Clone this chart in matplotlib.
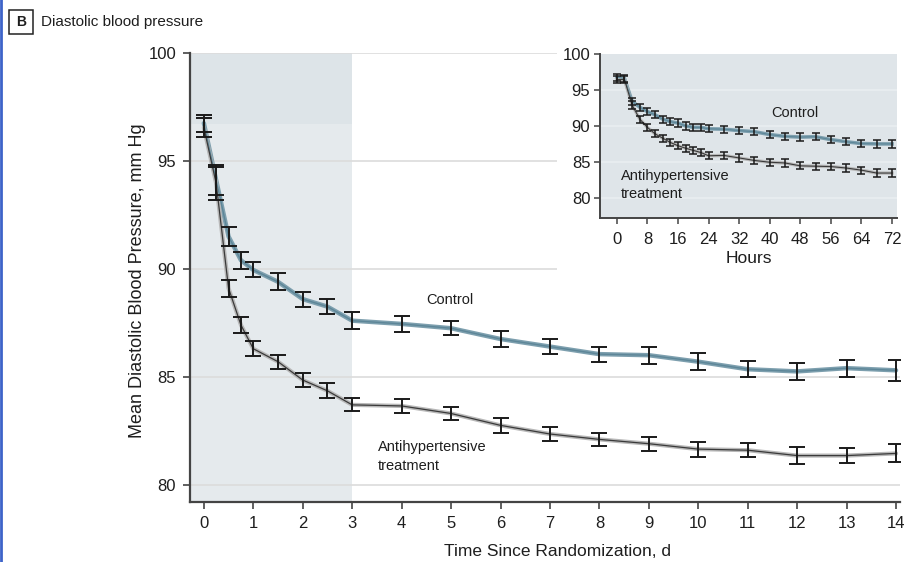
import matplotlib
matplotlib.use("Agg")
import matplotlib.pyplot as plt
from matplotlib.patches import Rectangle
from matplotlib.lines import Line2D

# Mean diastolic BP by day (main panel)
days = [0, 0.25, 0.5, 0.75, 1, 1.5, 2, 2.5, 3, 4, 5, 6, 7, 8, 9, 10, 11, 12, 13, 14]
control_d = [96.75, 94.1, 91.5, 90.4, 89.95, 89.4, 88.6, 88.25, 87.6,
             87.45, 87.25, 86.75, 86.4, 86.05, 86.0, 85.7, 85.35, 85.25, 85.4, 85.3]
control_d_err = [0.4, 0.7, 0.45, 0.4, 0.35, 0.4, 0.35, 0.35, 0.38,
                 0.38, 0.32, 0.38, 0.35, 0.35, 0.4, 0.38, 0.38, 0.4, 0.4, 0.5]
treat_d = [96.55, 93.95, 89.1, 87.4, 86.3, 85.7, 84.85, 84.35, 83.7,
           83.65, 83.3, 82.75, 82.35, 82.1, 81.9, 81.65, 81.6, 81.35, 81.35, 81.45]
treat_d_err = [0.45, 0.75, 0.4, 0.35, 0.35, 0.32, 0.32, 0.35, 0.3,
               0.32, 0.32, 0.35, 0.32, 0.3, 0.32, 0.35, 0.32, 0.38, 0.35, 0.42]

# First 72 hours (inset)
hours = [0, 2, 4, 6, 8, 10, 12, 14, 16, 18, 20, 22, 24, 28, 32, 36, 40, 44,
         48, 52, 56, 60, 64, 68, 72]
control_h = [96.75, 96.6, 93.4, 92.6, 92.0, 91.55, 90.95, 90.6, 90.4, 90.0, 89.8,
             89.8, 89.6, 89.55, 89.35, 89.2, 88.8, 88.55, 88.45, 88.5, 88.1,
             87.8, 87.55, 87.5, 87.5]
treat_h = [96.45, 96.45, 92.9, 90.95, 89.8, 88.9, 88.3, 87.7, 87.25, 86.9, 86.6,
           86.3, 85.85, 85.9, 85.55, 85.2, 84.95, 84.85, 84.45, 84.4, 84.35,
           84.15, 83.85, 83.45, 83.45]
err_h = 0.5

plt.rcParams["font.family"] = ["Liberation Sans", "DejaVu Sans"]

TXT = "#1e1e1e"
SPINE = "#444444"
GRID = "#dcdcdc"
SHADE = "#e5eaed"
SHADE_TOP = "#dde4e8"
CTRL = "#7d9fae"
CTRL_IN = "#5d8698"
TRT = "#b8b8b8"
TRT_IN = "#3a3a3a"

W, H = 906, 562
fig = plt.figure(figsize=(W / 100, H / 100), dpi=100)

# left-edge rule
fig.add_artist(Line2D([0.0015, 0.0015], [0, 1], transform=fig.transFigure,
                      color="#3d63c9", lw=2))

# panel heading: boxed letter + title
fig.add_artist(Rectangle((9 / W, 1 - 34 / H), 24 / W, 24 / H, transform=fig.transFigure,
                         fc="white", ec="#222222", lw=1.1))
fig.text(21 / W, 1 - 22 / H, "B", fontsize=10, fontweight="bold", color=TXT,
         ha="center", va="center")
fig.text(41 / W, 1 - 22 / H, "Diastolic blood pressure", fontsize=11, color=TXT,
         ha="left", va="center")

ax = fig.add_axes([190 / W, 1 - 502 / H, 710 / W, 449 / H])
ax.set_xlim(-0.28, 14.08)
ax.set_ylim(79.2, 100)

ax.axvspan(-0.28, 3, color=SHADE, lw=0, zorder=0)
ax.add_patch(Rectangle((-0.28, 96.72), 3.28, 100 - 96.72, color=SHADE_TOP, lw=0, zorder=0.1))
for yv in [80, 85, 90, 95, 100]:
    ax.axhline(yv, color=GRID, lw=1.2, zorder=0.5)

ax.plot(days, control_d, color=CTRL, lw=3.2, zorder=2, solid_capstyle="round")
ax.plot(days, control_d, color=CTRL_IN, lw=1.0, zorder=2.1)
ax.plot(days, treat_d, color=TRT, lw=3.0, zorder=2, solid_capstyle="round")
ax.plot(days, treat_d, color=TRT_IN, lw=0.9, zorder=2.1)
ax.errorbar(days, control_d, yerr=control_d_err, fmt="none", ecolor="#1a1a1a",
            elinewidth=1.4, capsize=6, capthick=1.4, zorder=3)
ax.errorbar(days, treat_d, yerr=treat_d_err, fmt="none", ecolor="#1a1a1a",
            elinewidth=1.4, capsize=6, capthick=1.4, zorder=3)

ax.text(4.5, 88.55, "Control", fontsize=10.5, color=TXT, va="center", ha="left")
ax.text(3.52, 81.3, "Antihypertensive\ntreatment", fontsize=10.5, color=TXT,
        va="center", ha="left", linespacing=1.45)

ax.set_xticks(range(0, 15))
ax.set_yticks([80, 85, 90, 95, 100])
ax.tick_params(direction="out", length=5, width=1.2, color=SPINE,
               labelsize=12, labelcolor=TXT, pad=5)
for side in ["top", "right"]:
    ax.spines[side].set_visible(False)
for side in ["left", "bottom"]:
    ax.spines[side].set_color(SPINE)
    ax.spines[side].set_linewidth(1.6)
ax.set_xlabel("Time Since Randomization, d", fontsize=12.5, color=TXT)
ax.set_ylabel("Mean Diastolic Blood Pressure, mm Hg", fontsize=13, color=TXT)
ax.xaxis.set_label_coords(0.517, -0.094)
ax.yaxis.set_label_coords(-0.062, 0.492)

# white backing behind the inset and its labels
fig.add_artist(Rectangle((557 / W, 1 - 278 / H), 349 / W, 236 / H,
                         transform=fig.transFigure, fc="white", ec="none", zorder=2.5))

ins = fig.add_axes([600 / W, 1 - 218 / H, 297 / W, 164 / H], zorder=3)
ins.set_facecolor("#dfe5e9")
ins.set_xlim(-4.4, 73.3)
ins.set_ylim(77.2, 100)
for yv in [80, 85, 90, 95]:
    ins.axhline(yv, color="#e9eef1", lw=1.2, zorder=0.5)
ins.plot(hours, control_h, color=CTRL, lw=2.6, zorder=2)
ins.plot(hours, control_h, color=CTRL_IN, lw=0.8, zorder=2.1)
ins.plot(hours, treat_h, color=TRT, lw=2.4, zorder=2)
ins.plot(hours, treat_h, color=TRT_IN, lw=0.8, zorder=2.1)
ins.errorbar(hours, control_h, yerr=err_h, fmt="none", ecolor="#1a1a1a",
             elinewidth=1.1, capsize=3, capthick=1.1, zorder=3)
ins.errorbar(hours, treat_h, yerr=err_h, fmt="none", ecolor="#1a1a1a",
             elinewidth=1.1, capsize=3, capthick=1.1, zorder=3)
ins.text(40.5, 91.8, "Control", fontsize=10.5, color=TXT, va="center", ha="left")
ins.text(1.0, 81.8, "Antihypertensive\ntreatment", fontsize=10.5, color=TXT,
         va="center", ha="left", linespacing=1.4)
ins.set_xticks(range(0, 73, 8))
ins.set_yticks([80, 85, 90, 95, 100])
ins.tick_params(axis="x", direction="out", length=4, width=1.1, color=SPINE,
                labelsize=12, labelcolor=TXT, pad=6)
ins.tick_params(axis="y", direction="out", length=4, width=1.1, color=SPINE,
                labelsize=12, labelcolor=TXT, pad=3)
for side in ["top", "right"]:
    ins.spines[side].set_visible(False)
for side in ["left", "bottom"]:
    ins.spines[side].set_color(SPINE)
    ins.spines[side].set_linewidth(1.4)
ins.set_xlabel("Hours", fontsize=12.5, color=TXT, labelpad=3)

fig.savefig("out.png", dpi=100)
